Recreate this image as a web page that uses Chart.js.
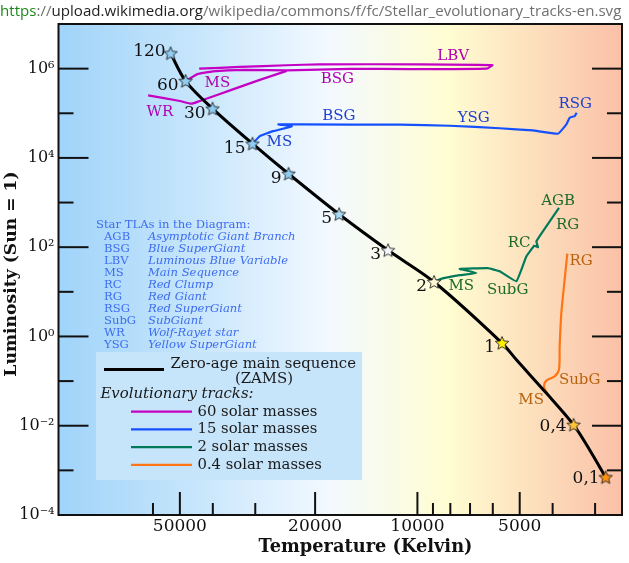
<!DOCTYPE html>
<html>
<head>
<title>Stellar evolutionary tracks</title>
<script src="https://cdn.jsdelivr.net/npm/chart.js"></script>
<style>
  body { margin: 0; background: #fff; }
  #wrap { position: relative; width: 629px; height: 563px; }
  #chart { position: absolute; left: 0; top: 0; }
  #url {
    position: absolute; left: 0; top: 0;
    font-family: "Open Sans", "Noto Sans", Arial; font-size: 15.1px;
    line-height: 20px; color: #707070; white-space: nowrap;
  }
  #url .scheme { color: #1b8a1b; }
  #url .host { color: #1e1e1e; }
</style>
</head>
<body>
<div id="wrap">
  <canvas id="chart" width="629" height="563"></canvas>
  <div id="url"><span class="scheme">https</span>://<span class="host">upload.wikimedia.org</span>/wikipedia/commons/f/fc/Stellar_evolutionary_tracks-en.svg</div>
</div>
<script>
  // axis ticks
  const xTickVals = [60000, 50000, 40000, 30000, 20000, 10000, 9000, 8000, 7000, 6000, 5000, 4000, 3000];
  const xTickLabels = ["", "50000", "", "", "20000", "10000", "", "", "", "", "5000", "", ""];
  const yTickVals = [1e-4, 1e-3, 1e-2, 1e-1, 1, 10, 100, 1e3, 1e4, 1e5, 1e6, 1e7];
  const yTickLabels = ["10⁻⁴", "", "10⁻²", "", "10⁰", "", "10²", "", "10⁴", "", "10⁶", ""];

  // zero-age main sequence
  const zamsT = [53250, 48100, 40070, 30570, 23950, 17000, 12200, 8930, 5636, 5113, 4175, 3470, 3112, 2793];
  const zamsL = [2.2e6, 5.27e5, 1.27e5, 2.08e4, 4410, 547, 85.1, 16.6, 0.712, 0.300, 0.0538, 0.01045, 0.00287, 7.01e-4];

  // stars on the ZAMS (solar masses)
  const starMasses = ["120", "60", "30", "15", "9", "5", "3", "2", "1", "0,4", "0,1"];
  const starT = [53250, 48100, 40070, 30570, 23950, 17000, 12200, 8930, 5636, 3470, 2793];
  const starL = [2.2e6, 5.27e5, 1.27e5, 2.08e4, 4410, 547, 85.1, 16.6, 0.712, 0.01045, 7.01e-4];
  const starColors = ["#8fcdf2", "#8fcdf2", "#8fcdf2", "#8fcdf2", "#8fcdf2", "#a9dbf7", "#f4f8fc", "#fff8d2", "#fff000", "#ffc238", "#ff8f10"];

  // 60 solar masses
  const t60T = [48100, 44570, 39990, 32190, 24230, 15810, 10530, 6250, 6015, 9840, 19380, 24280, 33300, 43870];
  const t60L = [5.27e5, 7.45e5, 8.70e5, 9.40e5, 9.16e5, 9.9e5, 9.74e5, 1.0e6, 1.2e6, 1.25e6, 1.25e6, 1.19e6, 1.09e6, 1.0e6];
  const wr60T = [24230, 29090, 34920, 43670, 46180, 50000, 62000];
  const wr60L = [8.9e5, 5.61e5, 3.43e5, 1.89e5, 1.64e5, 1.88e5, 2.52e5];
  // 15 solar masses
  const t15T = [30570, 29090, 26580, 23420, 25660, 22180, 11270, 8030, 5725, 4580, 3858, 3644, 3564, 3445, 3399];
  const t15L = [2.08e4, 3.07e4, 3.98e4, 5.08e4, 5.63e4, 5.63e4, 5.54e4, 5.26e4, 4.62e4, 4.13e4, 3.48e4, 5.63e4, 7.96e4, 8.64e4, 1.03e5];
  // 2 solar masses
  const t2T = [8930, 8480, 7510, 6705, 7510, 6210, 5725, 5113, 4778, 4528, 4418, 4466, 4175, 3832];
  const t2L = [16.6, 19.7, 23.6, 26.5, 32.6, 33.9, 28.8, 17.2, 62.4, 108, 100, 135.5, 294, 761];
  // 0.4 solar masses
  const t04T = [4156, 4241, 4165, 3945, 3832, 3814, 3771, 3687, 3621];
  const t04L = [0.0538, 0.0744, 0.104, 0.128, 0.179, 0.597, 3.35, 18.7, 71.8];

  // phase labels along the tracks
  const phaseText = ["MS", "WR", "BSG", "LBV", "MS", "BSG", "YSG", "RSG", "MS", "SubG", "RC", "RG", "AGB", "RG", "SubG", "MS"];
  const phaseT = [38790, 57260, 17210, 7845, 25480, 17030, 6828, 3434, 7430, 5424, 5017, 3613, 3853, 3297, 3331, 4627];
  const phaseL = [4.85e5, 1.05e5, 5.75e5, 1.86e6, 2.26e4, 8.64e4, 7.79e4, 1.64e5, 13.7, 11.2, 125, 310, 1092, 48.2, 0.107, 0.0367];
  const phaseTrack = [0, 0, 0, 0, 1, 1, 1, 1, 2, 2, 2, 2, 2, 3, 3, 3];

  const tlaAbbr = ["AGB", "BSG", "LBV", "MS", "RC", "RG", "RSG", "SubG", "WR", "YSG"];
  const tlaName = ["Asymptotic Giant Branch", "Blue SuperGiant", "Luminous Blue Variable", "Main Sequence", "Red Clump",
                   "Red Giant", "Red SuperGiant", "SubGiant", "Wolf-Rayet star", "Yellow SuperGiant"];
  const trackNames = ["60 solar masses", "15 solar masses", "2 solar masses", "0.4 solar masses"];

  const trackColors = ["#c400c4", "#1450ff", "#007a5a", "#ff7414"];
  const textColors = ["#b000b0", "#1f40d0", "#1d6b2a", "#b8620e"];
  const serif = "DejaVu Serif";

  function pts(T, L) { return T.map((t, i) => ({ x: t, y: L[i] })); }

  function makeStar(fill) {
    const c = document.createElement("canvas");
    c.width = 18; c.height = 18;
    const g = c.getContext("2d");
    g.beginPath();
    for (let i = 0; i < 10; i++) {
      const a = -Math.PI / 2 + i * Math.PI / 5;
      const r = i % 2 ? 3.2 : 7;
      g.lineTo(9 + r * Math.cos(a), 9.5 + r * Math.sin(a));
    }
    g.closePath();
    g.fillStyle = fill;
    g.fill();
    g.lineWidth = 0.9;
    g.strokeStyle = "#222";
    g.stroke();
    return c;
  }

  function line(ctx, x1, y1, x2, y2) {
    ctx.beginPath(); ctx.moveTo(x1, y1); ctx.lineTo(x2, y2); ctx.stroke();
  }

  const decor = {
    id: "decor",
    beforeDatasetsDraw(chart) {
      const { ctx, chartArea: a } = chart;
      const g = ctx.createLinearGradient(a.left, 0, a.right, 0);
      g.addColorStop(0, "rgb(160,212,250)");
      g.addColorStop(0.25, "rgb(200,230,252)");
      g.addColorStop(0.48, "rgb(243,249,255)");
      g.addColorStop(0.69, "rgb(255,253,210)");
      g.addColorStop(0.83, "rgb(253,226,190)");
      g.addColorStop(1, "rgb(250,192,168)");
      ctx.save();
      ctx.fillStyle = g;
      ctx.fillRect(a.left, a.top, a.right - a.left, a.bottom - a.top);

      // TLA list
      ctx.fillStyle = "#3d6cf0";
      ctx.textBaseline = "middle";
      ctx.textAlign = "left";
      ctx.font = "11.6px '" + serif + "'";
      ctx.fillText("Star TLAs in the Diagram:", 96, 224.5);
      tlaAbbr.forEach((s, i) => {
        ctx.font = "11.6px '" + serif + "'";
        ctx.fillText(s, 104, 236.5 + i * 12);
        ctx.font = "italic 11.6px '" + serif + "'";
        ctx.fillText(tlaName[i], 148, 236.5 + i * 12);
      });

      // legend box
      ctx.fillStyle = "#c6e4fa";
      ctx.fillRect(96, 352, 266, 128);
      ctx.strokeStyle = "#000";
      ctx.lineWidth = 3;
      line(ctx, 104, 369.5, 164, 369.5);
      ctx.fillStyle = "#1a1a1a";
      ctx.font = "14.9px '" + serif + "'";
      ctx.fillText("Zero-age main sequence", 170.5, 364.5);
      ctx.textAlign = "center";
      ctx.fillText("(ZAMS)", 264, 379.5);
      ctx.textAlign = "left";
      ctx.font = "italic 14.9px '" + serif + "'";
      ctx.fillText("Evolutionary tracks:", 100.5, 394.5);
      ctx.font = "14.8px '" + serif + "'";
      trackNames.forEach((n, i) => {
        const y = 411.7 + i * 17.7;
        ctx.strokeStyle = trackColors[i];
        ctx.lineWidth = 2.2;
        line(ctx, 131, y, 192, y);
        ctx.fillText(n, 197.5, y);
      });
      ctx.restore();
    },
    afterDatasetsDraw(chart) {
      const { ctx, chartArea: a, scales } = chart;
      ctx.save();
      // frame and inward ticks
      ctx.strokeStyle = "#111";
      ctx.lineWidth = 2;
      ctx.strokeRect(a.left, a.top, a.right - a.left, a.bottom - a.top);
      yTickVals.forEach((v, i) => {
        const y = scales.y.getPixelForValue(v);
        const len = yTickLabels[i] ? 30 : 15;
        line(ctx, a.left, y, a.left + len, y);
        line(ctx, a.right, y, a.right - len, y);
      });
      xTickVals.forEach((v, i) => {
        const x = scales.x.getPixelForValue(v);
        const len = xTickLabels[i] ? 23 : 12;
        line(ctx, x, a.bottom, x, a.bottom - len);
      });

      // mass labels beside the stars
      const meta = chart.getDatasetMeta(0);
      ctx.fillStyle = "#111";
      ctx.font = "17px '" + serif + "'";
      ctx.textAlign = "right";
      ctx.textBaseline = "middle";
      meta.data.forEach((p, i) => {
        let dx = -7, dy = 4.5;
        if (i === 0) { dx = -5; dy = -2; }
        if (i === 9) { dy = 2; }
        if (i === 10) { dx = -6; dy = 1; }
        ctx.fillText(starMasses[i], p.x + dx, p.y + dy);
      });

      // phase labels
      ctx.textAlign = "center";
      ctx.font = "15px '" + serif + "'";
      phaseText.forEach((s, i) => {
        ctx.fillStyle = textColors[phaseTrack[i]];
        ctx.fillText(s, scales.x.getPixelForValue(phaseT[i]), scales.y.getPixelForValue(phaseL[i]));
      });

      // axis titles
      ctx.fillStyle = "#111";
      ctx.font = "bold 17.8px '" + serif + "'";
      ctx.fillText("Temperature (Kelvin)", 365.5, 547.5);
      ctx.font = "bold 17.2px '" + serif + "'";
      ctx.translate(12, 274);
      ctx.rotate(-Math.PI / 2);
      ctx.fillText("Luminosity (Sun = 1)", 0, 0);
      ctx.restore();
    }
  };

  const trackLine = (data, color, width, tension) => ({
    data, borderColor: color, borderWidth: width, pointRadius: 0, tension, fill: false
  });

  new Chart(document.getElementById("chart"), {
    type: "line",
    data: {
      datasets: [
        { data: pts(starT, starL), showLine: false, pointRadius: 6, pointStyle: starColors.map(makeStar) },
        trackLine(pts(zamsT, zamsL), "#000", 3, 0.3),
        trackLine(pts(t60T, t60L), trackColors[0], 2.2, 0.1),
        trackLine(pts(wr60T, wr60L), trackColors[0], 2.2, 0.2),
        trackLine(pts(t15T, t15L), trackColors[1], 2.2, 0.1),
        trackLine(pts(t2T, t2L), trackColors[2], 2.2, 0.1),
        trackLine(pts(t04T, t04L), trackColors[3], 2.2, 0.3)
      ]
    },
    options: {
      responsive: false,
      devicePixelRatio: 1,
      animation: false,
      layout: { padding: { top: 24, right: 6.3, left: 0, bottom: 0 } },
      plugins: { legend: { display: false }, tooltip: { enabled: false } },
      scales: {
        x: {
          type: "logarithmic",
          reverse: true,
          min: 2500,
          max: 113800,
          grid: { display: false, drawTicks: false },
          border: { display: false },
          afterBuildTicks: s => { s.ticks = xTickVals.map(v => ({ value: v })); },
          afterFit: s => { s.height = 48; },
          ticks: {
            autoSkip: false, maxRotation: 0, padding: 1,
            color: "#111", font: { family: serif, size: 17 },
            callback: (v, i) => xTickLabels[i]
          }
        },
        y: {
          type: "logarithmic",
          min: 1e-4,
          max: 1e7,
          grid: { display: false, drawTicks: false },
          border: { display: false },
          afterBuildTicks: s => { s.ticks = yTickVals.map(v => ({ value: v })); },
          afterFit: s => { s.width = 58.5; },
          ticks: {
            autoSkip: false, padding: 4,
            color: "#111", font: { family: serif, size: 16 },
            callback: (v, i) => yTickLabels[i]
          }
        }
      }
    },
    plugins: [decor]
  });
</script>
</body>
</html>
